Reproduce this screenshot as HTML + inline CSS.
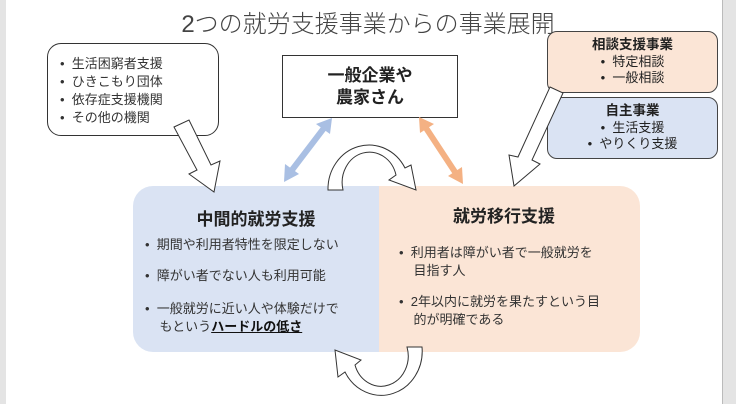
<!DOCTYPE html>
<html><head><meta charset="utf-8"><style>
html,body{margin:0;padding:0}
body{width:736px;height:404px;position:relative;background:#fff;overflow:hidden;font-family:"Liberation Sans","Noto Sans CJK JP",sans-serif;color:#222}
.a{position:absolute;box-sizing:border-box}
.t{white-space:nowrap}
</style></head><body>
<div class="a" style="left:0;top:0;width:6px;height:404px;background:#e4e4e4"></div>
<div class="a" style="left:722px;top:0;width:14px;height:404px;background:#e4e4e4;border-left:1px solid #bbb"></div>
<div class="a t" style="left:0;width:736px;top:4px;text-align:center;font-size:24px;font-weight:300;color:#444">2つの就労支援事業からの事業展開</div>

<div class="a" style="left:47px;top:43px;width:172px;height:93px;border:1px solid #333;border-radius:14px;background:#fff"></div>
<div class="a t" style="left:60px;top:55px;font-size:13px;line-height:18px;color:#333">•&nbsp;&nbsp;生活困窮者支援<br>•&nbsp;&nbsp;ひきこもり団体<br>•&nbsp;&nbsp;依存症支援機関<br>•&nbsp;&nbsp;その他の機関</div>

<div class="a" style="left:282px;top:55px;width:176px;height:63px;border:1px solid #333;background:#fff;text-align:center;font-weight:bold;font-size:17px;line-height:22px;padding-top:9px">一般企業や<br>農家さん</div>

<div class="a" style="left:547px;top:31px;width:171px;height:62px;border:1px solid #444;border-radius:10px;background:#fbe5d6;text-align:center;font-size:13px;line-height:16.5px;padding-top:5px"><b style="font-size:13.5px">相談支援事業</b><br>•&nbsp;&nbsp;特定相談<br>•&nbsp;&nbsp;一般相談</div>
<div class="a" style="left:547px;top:97px;width:171px;height:62px;border:1px solid #444;border-radius:10px;background:#dae3f3;text-align:center;font-size:13px;line-height:16.5px;padding-top:5px"><b style="font-size:13.5px">自主事業</b><br>•&nbsp;&nbsp;生活支援<br>•&nbsp;&nbsp;やりくり支援</div>

<div class="a" style="left:133px;top:186px;width:246px;height:166px;background:#dae3f3;border-radius:20px 0 0 20px"></div>
<div class="a" style="left:379px;top:186px;width:261px;height:166px;background:#fbe5d6;border-radius:0 20px 20px 0"></div>
<div class="a t" style="left:133px;width:246px;top:205px;text-align:center;font-weight:bold;font-size:17px">中間的就労支援</div>
<div class="a t" style="left:379px;width:250px;top:202px;text-align:center;font-weight:bold;font-size:17px">就労移行支援</div>
<div class="a t" style="left:145px;top:236px;font-size:13px;line-height:18px;color:#333">•&nbsp;&nbsp;期間や利用者特性を限定しない</div>
<div class="a t" style="left:145px;top:267px;font-size:13px;line-height:18px;color:#333">•&nbsp;&nbsp;障がい者でない人も利用可能</div>
<div class="a t" style="left:145px;top:300px;font-size:13px;line-height:18px;color:#333">•&nbsp;&nbsp;一般就労に近い人や体験だけで<br>&nbsp;&nbsp;&nbsp;&nbsp;もという<b style="text-decoration:underline;color:#111">ハードルの低さ</b></div>
<div class="a t" style="left:399px;top:244px;font-size:13px;line-height:18px;color:#333">•&nbsp;&nbsp;利用者は障がい者で一般就労を<br>&nbsp;&nbsp;&nbsp;&nbsp;目指す人</div>
<div class="a t" style="left:399px;top:293px;font-size:13px;line-height:18px;color:#333">•&nbsp;&nbsp;2年以内に就労を果たすという目<br>&nbsp;&nbsp;&nbsp;&nbsp;的が明確である</div>

<svg class="a" style="left:0;top:0" width="736" height="404" viewBox="0 0 736 404">
<path d="M174,127 L189,120 L211,165 L220,161 L214,192 L189,174 L197,170 Z" fill="#fff" stroke="#333" stroke-width="1"/>
<path d="M550,87 L563,93 L532,160 L540,164 L514,186 L509,155 L518,157 Z" fill="#fff" stroke="#333" stroke-width="1"/>
<line x1="292" y1="170" x2="324" y2="128" stroke="#a9bfe3" stroke-width="6"/>
<polygon points="284,182 285,164 299,174" fill="#a9bfe3"/>
<polygon points="332,118 316,124 330,134" fill="#a9bfe3"/>
<line x1="426" y1="128" x2="455" y2="172" stroke="#f4b183" stroke-width="6"/>
<polygon points="419,117 434,124 420,133" fill="#f4b183"/>
<polygon points="463,184 448,176 462,167" fill="#f4b183"/>
<path d="M328,190 A41,44 0 0 1 405,168 L411,165 L416,190 L389,180 L396,175 A27,30 0 0 0 343,190 Z" fill="#fff" stroke="#333" stroke-width="1"/>
<path d="M422,347 A41,44 0 0 1 345,372 L338,377 L335,350 L361,360 L355,365 A27,30 0 0 0 407,347 Z" fill="#fff" stroke="#333" stroke-width="1"/>
</svg>
</body></html>
